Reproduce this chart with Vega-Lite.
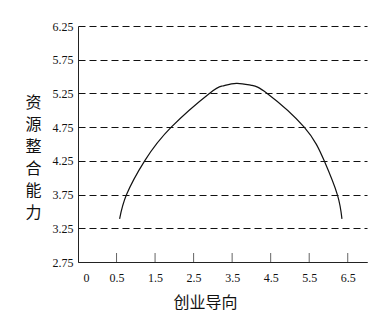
{
  "$schema": "https://vega.github.io/schema/vega-lite/v6.json",
  "width": 289,
  "height": 236,
  "autosize": "none",
  "padding": {"left": 78, "top": 26, "right": 25, "bottom": 56},
  "background": "white",
  "config": {"view": {"stroke": null}},
  "datasets": {
    "curve": [
      {"x": 0.58, "y": 3.39},
      {"x": 0.76, "y": 3.75},
      {"x": 1.23, "y": 4.25},
      {"x": 1.92, "y": 4.75},
      {"x": 2.91, "y": 5.25},
      {"x": 3.25, "y": 5.36},
      {"x": 3.61, "y": 5.4},
      {"x": 4.0, "y": 5.37},
      {"x": 4.41, "y": 5.25},
      {"x": 5.37, "y": 4.75},
      {"x": 5.89, "y": 4.25},
      {"x": 6.23, "y": 3.75},
      {"x": 6.35, "y": 3.39}
    ],
    "xticks": [
      {"x": 0.5, "y": 2.75}, {"x": 1.5, "y": 2.75}, {"x": 2.5, "y": 2.75}, {"x": 3.5, "y": 2.75},
      {"x": 4.5, "y": 2.75}, {"x": 5.5, "y": 2.75}, {"x": 6.5, "y": 2.75}
    ]
  },
  "encoding": {
    "x": {
      "field": "x",
      "type": "quantitative",
      "scale": {"domain": [-0.5, 7.0], "nice": false, "zero": false},
      "axis": {
        "values": [-0.5, 0.5, 1.5, 2.5, 3.5, 4.5, 5.5, 6.5],
        "labelExpr": "datum.value < 0 ? '0' : datum.label",
        "format": ".1f",
        "grid": false,
        "domainColor": "#222",
        "ticks": false,
        "labelOffset": {"condition": {"test": "datum.value < 0", "value": 5}, "value": 0},
        "labelPadding": 10,
        "labelFont": "Liberation Serif",
        "labelFontSize": 12,
        "labelColor": "#111",
        "labelBaseline": "top",
        "title": "创业导向",
        "titleFont": "Noto Sans CJK SC",
        "titleFontSize": 16,
        "titleFontWeight": "normal",
        "titleColor": "#111",
        "titleX": 127,
        "titleY": 40,
        "titleAlign": "center",
        "titleBaseline": "middle"
      }
    },
    "y": {
      "field": "y",
      "type": "quantitative",
      "scale": {"domain": [2.75, 6.25], "nice": false, "zero": false},
      "axis": {
        "values": [2.75, 3.25, 3.75, 4.25, 4.75, 5.25, 5.75, 6.25],
        "format": ".2f",
        "ticks": false,
        "labelPadding": 5,
        "domainColor": "#222",
        "grid": true,
        "gridColor": "#111",
        "gridDash": [7, 4],
        "gridWidth": 1.2,
        "labelFont": "Liberation Serif",
        "labelFontSize": 12,
        "labelColor": "#111",
        "title": ["资", "源", "整", "合", "能", "力"],
        "titleAngle": 0,
        "titleFont": "Noto Sans CJK SC",
        "titleFontSize": 16,
        "titleFontWeight": "normal",
        "titleColor": "#111",
        "titleLineHeight": 22,
        "titleX": -45,
        "titleY": 76,
        "titleAlign": "center",
        "titleBaseline": "middle"
      }
    }
  },
  "layer": [
    {
      "data": {"name": "curve"},
      "mark": {"type": "line", "interpolate": "natural", "color": "#111", "strokeWidth": 1.2}
    },
    {
      "data": {"name": "xticks"},
      "mark": {"type": "tick", "orient": "vertical", "size": 9, "thickness": 1, "color": "#222", "yOffset": -4.5}
    }
  ]
}
